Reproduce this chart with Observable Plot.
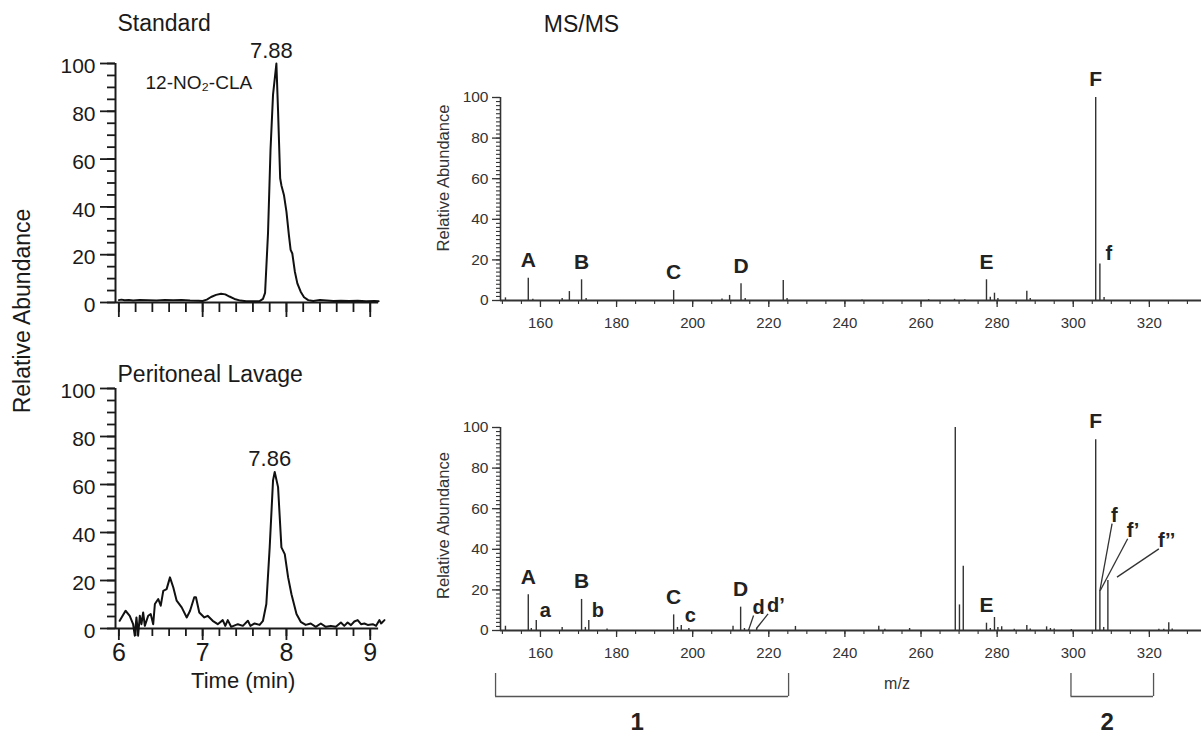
<!DOCTYPE html>
<html><head><meta charset="utf-8">
<script src="https://cdn.jsdelivr.net/npm/d3@7"></script>
<script src="https://cdn.jsdelivr.net/npm/@observablehq/plot@0.6"></script>
<style>
html,body{margin:0;padding:0;background:#fff;}
#wrap{position:relative;width:1201px;height:736px;overflow:hidden;font-family:"Liberation Sans",Arial,Helvetica,sans-serif;}
</style></head><body><div id="wrap"></div>
<script>
// ---------- Chromatograms (time in min, relative abundance) ----------
const stdTime = [6.00,6.03,6.07,6.12,6.17,6.25,6.35,6.45,6.55,6.65,6.75,6.85,6.95,7.00,7.05,7.10,7.16,7.22,7.27,7.32,7.38,7.45,7.52,7.60,7.68,7.72,7.745,7.78,7.81,7.84,7.88,7.90,7.925,7.94,7.97,8.00,8.03,8.05,8.07,8.10,8.13,8.17,8.21,8.26,8.32,8.40,8.48,8.56,8.65,8.75,8.85,8.95,9.05,9.10];
const stdAbund = [1.0,1.2,0.9,1.0,0.8,1.0,0.9,0.8,1.0,0.9,1.0,0.8,0.7,0.6,1.2,2.3,3.2,3.7,3.4,2.5,1.5,0.8,0.5,0.5,0.6,1.5,4,29,64,87,100,80,52,49,45,38,28,22,20.5,13,8,4.5,2.2,1.0,0.6,1.0,0.8,0.6,0.7,0.6,0.7,0.5,0.6,0.5];

const lavTime = [6.01,6.08,6.13,6.17,6.19,6.21,6.23,6.25,6.27,6.29,6.31,6.35,6.38,6.41,6.43,6.47,6.50,6.53,6.57,6.61,6.65,6.69,6.75,6.81,6.85,6.90,6.92,6.96,7.02,7.06,7.12,7.18,7.24,7.27,7.30,7.34,7.42,7.48,7.54,7.57,7.62,7.68,7.72,7.76,7.80,7.84,7.86,7.90,7.94,7.98,8.02,8.06,8.12,8.17,8.23,8.29,8.35,8.41,8.47,8.53,8.59,8.65,8.69,8.73,8.77,8.81,8.85,8.89,8.93,8.97,9.03,9.07,9.11,9.13,9.17];
const lavAbund = [3.2,7.4,5.3,1.8,-3,4.6,-3,5.3,1.8,6.7,1.1,5.3,6.0,1.8,10.2,12.3,9.5,15.7,16.4,21.3,17.1,11.6,8.8,4.6,7.4,13.0,13.0,6.7,4.6,5.3,3.2,1.8,3.5,1.1,3.5,0.7,1.8,1.1,3.2,1.1,2.1,1.5,3.2,10.2,33.8,61.7,65.2,58.9,33.8,31.0,21.3,14.3,6.0,2.8,1.5,2.1,0.7,2.1,0.7,1.1,0.7,2.5,1.1,2.5,1.4,2.9,3.5,1.8,2.1,1.5,1.8,1.1,3.5,2.1,3.5];

// ---------- MS/MS spectra (m/z, relative abundance) ----------
const ms1Mz  = [150.8,156.8,158.0,165.7,167.6,170.8,172.0,195.0,207.7,209.7,212.7,213.8,223.8,224.8,244.5,262.0,268.8,271.5,277.2,278.2,279.3,280.2,287.8,288.7,305.9,307.0,308.1];
const ms1Int = [1.3,11,0.6,1.0,4.4,10.2,1.0,4.9,0.8,2.5,8.2,1.0,9.8,1.0,0.3,0.4,0.6,0.4,10.2,1.6,3.6,1.0,4.6,1.0,100,18,1.5];

const ms2Mz  = [150.8,156.8,157.6,158.9,165.7,170.8,171.8,172.7,177.5,195.0,196.0,197.0,199.0,210.6,212.6,213.6,214.7,216.8,227.0,248.9,250.5,257.0,269.0,270.1,271.1,277.2,278.2,279.3,280.2,281.2,284.5,287.8,288.7,293.0,294.0,295.0,299.5,305.9,307.0,308.0,309.1,322.5,323.8,325.1,326.0];
const ms2Int = [2.1,17.6,1.0,4.9,1.5,15.3,1.5,4.9,0.8,7.7,1.5,2.5,1.0,2.1,11.5,1.0,0.5,1.1,2.0,2.1,0.6,1.0,100,12.6,31.7,3.6,1.0,6.4,1.5,1.8,0.6,2.5,0.8,1.8,1.0,0.8,0.5,94,19.7,1.5,24.6,0.6,0.6,3.8,0.8];

// Fragment labels
const ms1UpperText = ["A","B","C","D","E","F"];
const ms1UpperMz   = [156.8,170.8,195.0,212.7,277.2,305.9];
const ms1LowerText = ["f"];
const ms1LowerMz   = [307.0];

const ms2UpperText = ["A","B","C","D","E","F"];
const ms2UpperMz   = [156.8,170.8,195.0,212.6,277.2,305.9];
const ms2LowerText = ["a","b","c"];
const ms2LowerMz   = [158.9,172.7,197.0];
const ms2LeaderText   = ["d","d\u2019","f","f\u2019","f\u2019\u2019"];
const ms2LeaderFromMz = [214.7,216.8,307.0,307.1,311.5];
const ms2LeaderFromAb = [0.3,1.1,19.7,19.7,26.3];
const ms2LeaderToMz   = [216.0,219.8,310.2,314.3,322.5];
const ms2LeaderToAb   = [7.4,8.2,52.6,45.2,40.2];

// Regions under the lower spectrum
const bracketText = ["1","2"];
const bracketFrom = [148.2,299.4];
const bracketTo   = [225.2,321.1];

// Ticks
const lcYMajor = [0,20,40,60,80,100];
const lcYMinor = d3.range(0, 101, 5);
const lcXMajor = [6,7,8,9];
const lcXMinor = d3.range(6, 9.01, 0.2);
const msYMajor = [0,20,40,60,80,100];
const msYMinor = d3.range(0, 101, 2);
const msXMajor = [160,180,200,220,240,260,280,300,320];
const msXMinor = d3.range(150, 334, 5);

// ---------- build ----------
const FONT = '"Liberation Sans", Arial, Helvetica, sans-serif';
const wrap = document.getElementById("wrap");
function place(el, left, top) {
  el.style.position = "absolute"; el.style.left = left + "px"; el.style.top = top + "px";
  wrap.appendChild(el);
}
const LC_X = [5.96, 9.2];
const MZ_X = [149.5, 333.7];
const none = () => "";
const intFmt = d3.format("d");

const std = stdTime.map((t, i) => ({t, v: stdAbund[i]}));
const lav = lavTime.map((t, i) => ({t, v: lavAbund[i]}));
const peakOf = arr => arr.reduce((a, b) => (b.v > a.v ? b : a));

function lcPlot(data, {height, marginTop, marginBottom, title, titleDy, xLabels, extra}) {
  const peak = peakOf(data);
  const marks = [
    Plot.axisY({ticks: lcYMajor, tickSize: 15, tickFormat: none, strokeWidth: 1.8, label: null}),
    Plot.axisY({ticks: lcYMinor, tickSize: 8, tickFormat: none, strokeWidth: 1.8, label: null}),
    Plot.axisY({ticks: lcYMajor, tickSize: 0, tickPadding: 20, dy: 3, fontSize: 21, tickFormat: intFmt, label: null}),
    Plot.axisX({ticks: lcXMinor, tickSize: xLabels ? 8 : 10, tickFormat: none, strokeWidth: 1.8, label: null}),
    xLabels
      ? Plot.axisX({ticks: lcXMajor, tickSize: 12, tickPadding: 3, fontSize: 25, tickFormat: intFmt, strokeWidth: 1.8, label: null})
      : Plot.axisX({ticks: lcXMajor, tickSize: 15, tickFormat: none, strokeWidth: 1.8, label: null}),
    Plot.ruleX([LC_X[0]], {y1: 0, y2: 100, strokeWidth: 2}),
    Plot.ruleY([0], {x1: LC_X[0], x2: 9.1, strokeWidth: 2}),
    Plot.line(data, {x: "t", y: "v", strokeWidth: 2, stroke: "#111"}),
    Plot.text([peak], {x: "t", y: "v", text: d => d.t.toFixed(2), dx: -5, dy: -13, fontSize: 22, lineAnchor: "middle"}),
    Plot.text([title], {frameAnchor: "top-left", dx: 2, dy: titleDy, textAnchor: "start", lineAnchor: "middle", fontSize: 23}),
    ...(extra || [])
  ];
  return Plot.plot({
    width: 400, height, marginLeft: 115, marginRight: 13.5, marginTop, marginBottom,
    x: {domain: LC_X, axis: null}, y: {domain: [0, 100], axis: null},
    style: {fontFamily: FONT, color: "#1a1a1a", background: "transparent", overflow: "visible"},
    marks
  });
}

place(lcPlot(std, {height: 335, marginTop: 63, marginBottom: 33, title: "Standard", titleDy: -40, xLabels: false,
  extra: [Plot.text(["12-NO\u2082-CLA"], {frameAnchor: "top-left", dx: 30, dy: 19, textAnchor: "start", lineAnchor: "middle", fontSize: 19})]}), 0, 0);

place(lcPlot(lav, {height: 401, marginTop: 53, marginBottom: 108, title: "Peritoneal Lavage", titleDy: -14, xLabels: true,
  extra: [Plot.text(["Time (min)"], {frameAnchor: "bottom", dx: -8, dy: 52, textAnchor: "middle", lineAnchor: "middle", fontSize: 22})]}), 0, 335);

// shared y label for chromatograms
const yl = document.createElement("div");
yl.textContent = "Relative Abundance";
Object.assign(yl.style, {fontSize: "23px", whiteSpace: "nowrap", color: "#1a1a1a", transform: "translate(-50%,-50%) rotate(-90deg)", lineHeight: "1"});
place(yl, 22, 311);

function msPlot(mzs, ints, {height, marginTop, marginBottom, upper, lower, leaders, extra, ylabDy}) {
  const peaks = mzs.map((mz, i) => ({mz, ab: ints[i]}));
  const abAt = mz => ints[mzs.indexOf(mz)];
  const up = upper[0].map((label, i) => ({label, mz: upper[1][i], ab: abAt(upper[1][i])}));
  const lo = lower[0].map((label, i) => ({label, mz: lower[1][i], ab: abAt(lower[1][i])}));
  const marks = [
    Plot.axisY({ticks: msYMajor, tickSize: 8, tickPadding: 4, fontSize: 15.5, tickFormat: intFmt, strokeWidth: 1.3, label: null}),
    Plot.axisY({ticks: msYMinor, tickSize: 4, tickFormat: none, strokeWidth: 1.1, label: null}),
    Plot.axisX({ticks: msXMajor, tickSize: 7, tickPadding: 10, fontSize: 15, tickFormat: intFmt, strokeWidth: 1.3, label: null}),
    Plot.axisX({ticks: msXMinor, tickSize: 4, tickFormat: none, strokeWidth: 1.1, label: null}),
    Plot.ruleX([MZ_X[0]], {y1: 0, y2: 100, strokeWidth: 1.6}),
    Plot.ruleY([0], {strokeWidth: 1.8}),
    Plot.ruleX(peaks, {x: "mz", y1: 0, y2: "ab", strokeWidth: 1.4, stroke: "#333"}),
    Plot.text(up, {x: "mz", y: "ab", text: "label", dy: -18, fontSize: 21, fontWeight: "bold", fill: "#222", lineAnchor: "middle"}),
    Plot.text(lo, {x: "mz", y: "ab", text: "label", dx: 9, dy: -10, fontSize: 20, fontWeight: "bold", fill: "#222", lineAnchor: "middle"}),
    Plot.text(["Relative Abundance"], {frameAnchor: "left", rotate: -90, dx: -57, dy: ylabDy, textAnchor: "middle", lineAnchor: "middle", fontSize: 16.5}),
    ...(extra || [])
  ];
  if (leaders) {
    const L = leaders[0].map((label, i) => ({label, x1: leaders[1][i], y1: leaders[2][i], x2: leaders[3][i], y2: leaders[4][i]}));
    marks.push(Plot.link(L, {x1: "x1", y1: "y1", x2: "x2", y2: "y2", strokeWidth: 1.3, stroke: "#333"}));
    marks.push(Plot.text(L, {x: "x2", y: "y2", text: "label", textAnchor: "start", lineAnchor: "middle", dx: -1, dy: -8, fontSize: 20, fontWeight: "bold", fill: "#222"}));
  }
  return Plot.plot({
    width: 781, height, marginLeft: 80, marginRight: 0, marginTop, marginBottom,
    x: {domain: MZ_X, axis: null}, y: {domain: [0, 100], axis: null},
    style: {fontFamily: FONT, color: "#333", background: "transparent", overflow: "visible"},
    marks
  });
}

place(msPlot(ms1Mz, ms1Int, {height: 335, marginTop: 97, marginBottom: 35, ylabDy: -21,
  upper: [ms1UpperText, ms1UpperMz], lower: [ms1LowerText, ms1LowerMz],
  extra: [Plot.text(["MS/MS"], {frameAnchor: "top-left", dx: 81, dy: -73, textAnchor: "middle", lineAnchor: "middle", fontSize: 23, fill: "#1a1a1a"})]}), 420, 0);

const pxBelow = px => -px * 100 / 203;   // offset below the m/z axis, in abundance units
const brackets = bracketText.map((label, i) => ({label, from: bracketFrom[i], to: bracketTo[i], mid: (bracketFrom[i] + bracketTo[i]) / 2}));
place(msPlot(ms2Mz, ms2Int, {height: 401, marginTop: 92, marginBottom: 106, ylabDy: -3.5,
  upper: [ms2UpperText, ms2UpperMz], lower: [ms2LowerText, ms2LowerMz],
  leaders: [ms2LeaderText, ms2LeaderFromMz, ms2LeaderFromAb, ms2LeaderToMz, ms2LeaderToAb],
  extra: [
    Plot.ruleX(brackets, {x: "from", y1: pxBelow(43), y2: pxBelow(66), strokeWidth: 1.3, stroke: "#555"}),
    Plot.ruleX(brackets, {x: "to", y1: pxBelow(43), y2: pxBelow(66), strokeWidth: 1.3, stroke: "#555"}),
    Plot.ruleY(brackets, {y: pxBelow(66), x1: "from", x2: "to", strokeWidth: 1.3, stroke: "#555"}),
    Plot.text(brackets, {x: "mid", y: pxBelow(92), text: "label", dx: -5, lineAnchor: "middle", fontSize: 24, fontWeight: "bold", fill: "#222"}),
    Plot.text(["m/z"], {frameAnchor: "bottom", dx: 46, dy: 53, textAnchor: "middle", lineAnchor: "middle", fontSize: 16})
  ]}), 420, 335);
</script></body></html>
